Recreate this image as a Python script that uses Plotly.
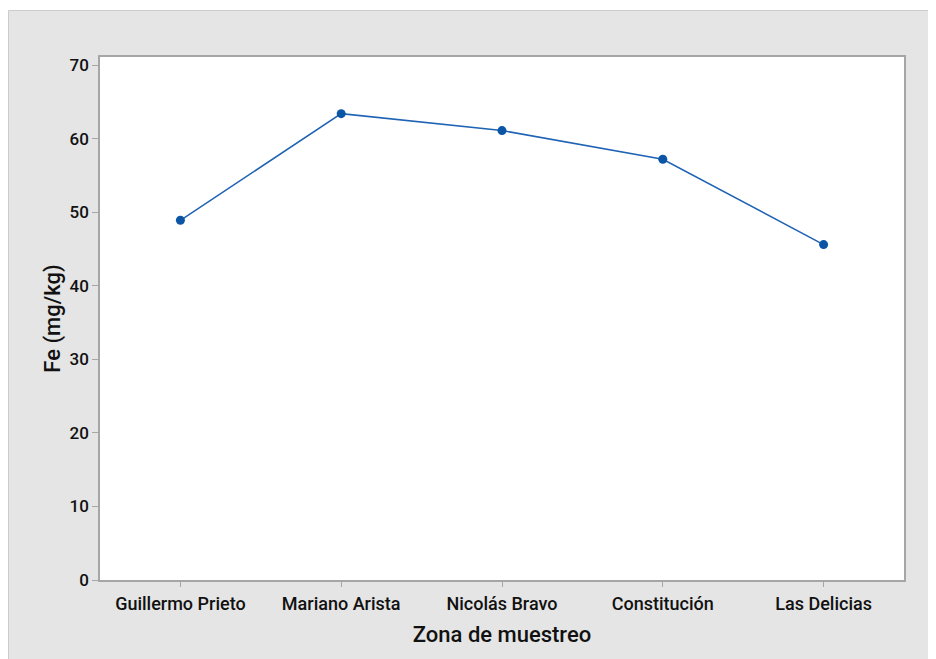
import plotly.graph_objects as go

zonas = ["Guillermo Prieto", "Mariano Arista", "Nicolás Bravo", "Constitución", "Las Delicias"]
fe = [48.9, 63.4, 61.1, 57.2, 45.6]
y_ticks = [0, 10, 20, 30, 40, 50, 60, 70]

W, H = 928, 651
L, R, T, B = 92, 32, 49, 79
pw, ph = W - L - R, H - T - B

def px(x):
    return (x - L) / pw

def py(y):
    return (H - B - y) / ph

fig = go.Figure()
fig.add_trace(go.Scatter(
    x=zonas, y=fe, mode="lines+markers",
    line=dict(color="#1f63b4", width=1.5),
    marker=dict(color="#0a55a5", size=9),
    showlegend=False,
))

xtick_font = dict(family="Roboto", size=18, color="#111111", weight=500)
ytick_font = dict(family="Roboto", size=17, color="#111111", weight=500)
title_font = dict(family="Roboto", size=22, color="#111111", weight=500)

fig.update_layout(
    width=W, height=H,
    margin=dict(l=L, r=R, t=T, b=B, pad=0),
    paper_bgcolor="#e5e5e5",
    plot_bgcolor="white",
    xaxis=dict(
        range=[-0.5, 4.5], showgrid=False, zeroline=False,
        showline=True, linecolor="#a6a6a6", linewidth=1.5, mirror=True,
        ticks="outside", ticklen=5, tickcolor="#a6a6a6", tickwidth=1,
        tickfont=xtick_font, ticklabelstandoff=2,
        title=dict(text="Zona de muestreo", font=title_font, standoff=13),
    ),
    yaxis=dict(
        range=[0, 71.1], showgrid=False, zeroline=False,
        tickvals=y_ticks,
        showline=True, linecolor="#a6a6a6", linewidth=1.5, mirror=True,
        ticks="outside", ticklen=6, tickcolor="#a6a6a6", tickwidth=1,
        tickfont=ytick_font,
        title=dict(text="Fe (mg/kg)", font=title_font, standoff=3),
    ),
    shapes=[
        dict(type="rect", xref="paper", yref="paper",
             x0=px(-5), x1=px(W + 5), y0=py(2), y1=py(-5),
             fillcolor="white", line=dict(width=0), layer="above"),
        dict(type="line", xref="paper", yref="paper",
             x0=px(0.5), x1=px(W + 5), y0=py(2.5), y1=py(2.5),
             line=dict(color="#cccccc", width=1), layer="above"),
        dict(type="line", xref="paper", yref="paper",
             x0=px(0.5), x1=px(0.5), y0=py(2.5), y1=py(H + 5),
             line=dict(color="#cccccc", width=1), layer="above"),
    ],
)

fig.write_html("out.html")
